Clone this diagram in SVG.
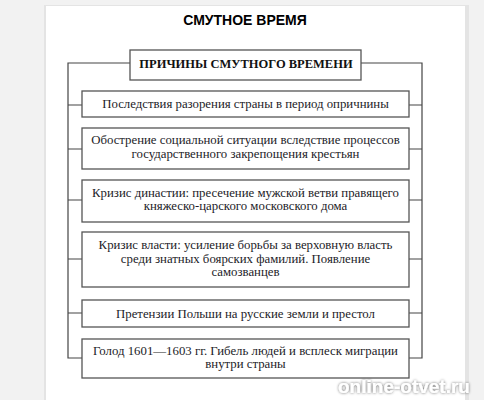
<svg xmlns="http://www.w3.org/2000/svg" width="484" height="400" viewBox="0 0 484 400">
<defs>
<filter id="sh" x="-10%" y="-50%" width="120%" height="200%"><feGaussianBlur in="SourceAlpha" stdDeviation="1.5"/><feComponentTransfer><feFuncA type="linear" slope="0.6"/></feComponentTransfer><feMerge><feMergeNode/><feMergeNode in="SourceGraphic"/></feMerge></filter>
</defs>
<style>
.box{fill:#fff;stroke:#555;stroke-width:1.3}
.ln{fill:none;stroke:#444;stroke-width:1.2}
.t{font-family:"Liberation Serif","Times New Roman",serif;font-size:12.8px;fill:#1c1c28;text-anchor:middle}
.h{font-family:"Liberation Serif","Times New Roman",serif;font-size:12.5px;font-weight:bold;fill:#111;text-anchor:middle}
.title{font-family:"Liberation Sans",Arial,sans-serif;font-size:14px;font-weight:bold;fill:#000;text-anchor:middle}
.wm{font-family:"Liberation Sans",Arial,sans-serif;font-size:19px;font-weight:bold;fill:#fff}
</style>
<rect x="0" y="0" width="484" height="400" fill="#f2f2f2"/>
<rect x="44" y="5" width="425" height="395" fill="#e4e4e4"/>
<rect x="46" y="6" width="419" height="394" fill="#fff"/>
<text class="title" x="245" y="25">СМУТНОЕ ВРЕМЯ</text>
<g id="connectors">
<path class="ln" d="M130,63 H68 V358 H82"/>
<path class="ln" d="M361,63 H422 V358 H409"/>
<path class="ln" d="M68,105 H82 M68,149 H82 M68,200 H82 M68,259 H82 M68,313 H82"/>
<path class="ln" d="M409,105 H422 M409,149 H422 M409,200 H422 M409,259 H422 M409,313 H422"/>
</g>
<g id="header"><rect class="box" x="130" y="50" width="231" height="30"/><text class="h" x="246" y="68">ПРИЧИНЫ СМУТНОГО ВРЕМЕНИ</text></g>
<g id="n1"><rect class="box" x="82" y="91" width="327" height="26"/><text class="t" x="245.5" y="108">Последствия разорения страны в период опричнины</text></g>
<g id="n2"><rect class="box" x="82" y="128" width="327" height="41"/><text class="t" x="245.5" y="144">Обострение социальной ситуации вследствие процессов</text><text class="t" x="245.5" y="157.5">государственного закрепощения крестьян</text></g>
<g id="n3"><rect class="box" x="82" y="180" width="327" height="42"/><text class="t" x="245.5" y="196.5">Кризис династии: пресечение мужской ветви правящего</text><text class="t" x="245.5" y="210">княжеско-царского московского дома</text></g>
<g id="n4"><rect class="box" x="82" y="232" width="327" height="55"/><text class="t" x="245.5" y="249">Кризис власти: усиление борьбы за верховную власть</text><text class="t" x="245.5" y="262.5">среди знатных боярских фамилий. Появление</text><text class="t" x="245.5" y="276">самозванцев</text></g>
<g id="n5"><rect class="box" x="82" y="300" width="327" height="27"/><text class="t" x="245.5" y="318">Претензии Польши на русские земли и престол</text></g>
<g id="n6"><rect class="box" x="82" y="339" width="327" height="39"/><text class="t" x="245.5" y="354.5">Голод 1601—1603 гг. Гибель людей и всплеск миграции</text><text class="t" x="245.5" y="368">внутри страны</text></g>
<text class="wm" x="338" y="393" filter="url(#sh)">online-otvet.ru</text>
</svg>
